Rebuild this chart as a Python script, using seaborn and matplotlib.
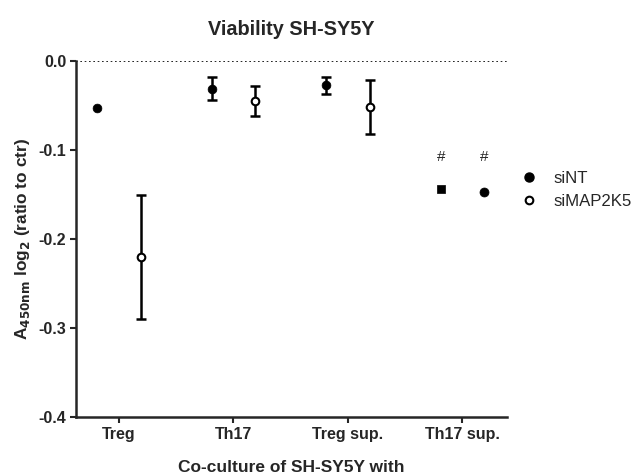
import numpy as np
import pandas as pd
import matplotlib
matplotlib.use("Agg")
import matplotlib.pyplot as plt
import seaborn as sns
from matplotlib.lines import Line2D

categories = ["Treg", "Th17", "Treg sup.", "Th17 sup."]
groups = ["siNT", "siMAP2K5"]
siNT_mean = [-0.053, -0.031, -0.0275, -0.144]
siNT_err = [0.0, 0.0125, 0.009, 0.0]
siMAP2K5_mean = [-0.22, -0.045, -0.052, -0.1475]
siMAP2K5_err = [0.07, 0.0165, 0.0305, 0.0]
yticks = [0.0, -0.1, -0.2, -0.3, -0.4]
sig_marks = ["", "", "", "#"]
sig_level = -0.1075

sns.set_theme(style="ticks")
plt.rcParams["font.family"] = ["Liberation Sans", "DejaVu Sans"]
plt.rcParams["mathtext.default"] = "bf"

fig = plt.figure(figsize=(6.34, 4.76), dpi=100)
ax = fig.add_axes([0.1199, 0.124, 0.68, 0.7478])

offset = 0.19
rows = []
for i, c in enumerate(categories):
    rows.append(dict(cat=c, x=i - offset, y=siNT_mean[i], err=siNT_err[i], group="siNT"))
    rows.append(dict(cat=c, x=i + offset, y=siMAP2K5_mean[i], err=siMAP2K5_err[i], group="siMAP2K5"))
df = pd.DataFrame(rows)

ax.axhline(0, color="black", linestyle=(0, (1, 1.6)), linewidth=1.2, zorder=1)

for _, r in df.iterrows():
    if r["err"] > 0:
        ax.errorbar(r["x"], r["y"], yerr=r["err"], fmt="none", ecolor="black",
                    elinewidth=1.8, capsize=3.3, capthick=1.8, zorder=2)

nt = df[df.group == "siNT"]
mk = df[df.group == "siMAP2K5"]
nt_main = nt[nt.cat != "Th17 sup."]
nt_last = nt[nt.cat == "Th17 sup."]
sns.scatterplot(data=nt_main, x="x", y="y", ax=ax, marker="o", s=40, color="black",
                edgecolor="black", linewidth=0.5, zorder=3, legend=False, clip_on=False)
sns.scatterplot(data=nt_last, x="x", y="y", ax=ax, marker="s", s=38, color="black",
                edgecolor="black", linewidth=0.5, zorder=3, legend=False, clip_on=False)
mk_main = mk[mk.cat != "Th17 sup."]
mk_last = mk[mk.cat == "Th17 sup."]
sns.scatterplot(data=mk_main, x="x", y="y", ax=ax, marker="o", s=30, facecolor="white",
                edgecolor="black", linewidth=1.5, zorder=3, legend=False, clip_on=False)
sns.scatterplot(data=mk_last, x="x", y="y", ax=ax, marker="o", s=42, color="black",
                edgecolor="black", linewidth=0.5, zorder=3, legend=False, clip_on=False)

for i, c in enumerate(categories):
    if sig_marks[i]:
        for xo in (i - offset, i + offset):
            ax.text(xo, sig_level, sig_marks[i], ha="center", va="center", fontsize=11)

ax.set_xlim(-0.375, 3.39)
ax.set_ylim(-0.4, 0.0)
ax.set_xticks(range(len(categories)))
ax.set_xticklabels(categories, fontweight="bold", fontsize=11.5)
ax.set_yticks(yticks)
ax.set_yticklabels([f"{v:.1f}" for v in yticks], fontweight="bold", fontsize=11.5)
ax.tick_params(axis="both", width=1.5, length=4, direction="out", pad=3)
for s in ("left", "bottom"):
    ax.spines[s].set_linewidth(1.8)
sns.despine(ax=ax)

ax.set_xlabel("Co-culture of SH-SY5Y with", fontweight="bold", fontsize=12.5, labelpad=13)
ax.set_ylabel(r"A$_{\mathbf{450nm}}$ log$_{\mathbf{2}}$ (ratio to ctr)", fontweight="bold",
              fontsize=12.4, labelpad=5)
ax.set_title("Viability SH-SY5Y", fontweight="bold", fontsize=14.3, pad=19)

handles = [Line2D([], [], marker="o", linestyle="none", markersize=6.5, markerfacecolor="black", markeredgecolor="black"),
           Line2D([], [], marker="o", linestyle="none", markersize=5.5, markerfacecolor="white", markeredgecolor="black", markeredgewidth=1.5)]
ax.legend(handles, groups, loc="center left", bbox_to_anchor=(0.986, 0.638), frameon=False,
          fontsize=12.1, handletextpad=0.7, labelspacing=0.48, handlelength=1.5)

fig.savefig("out.png", dpi=100)
